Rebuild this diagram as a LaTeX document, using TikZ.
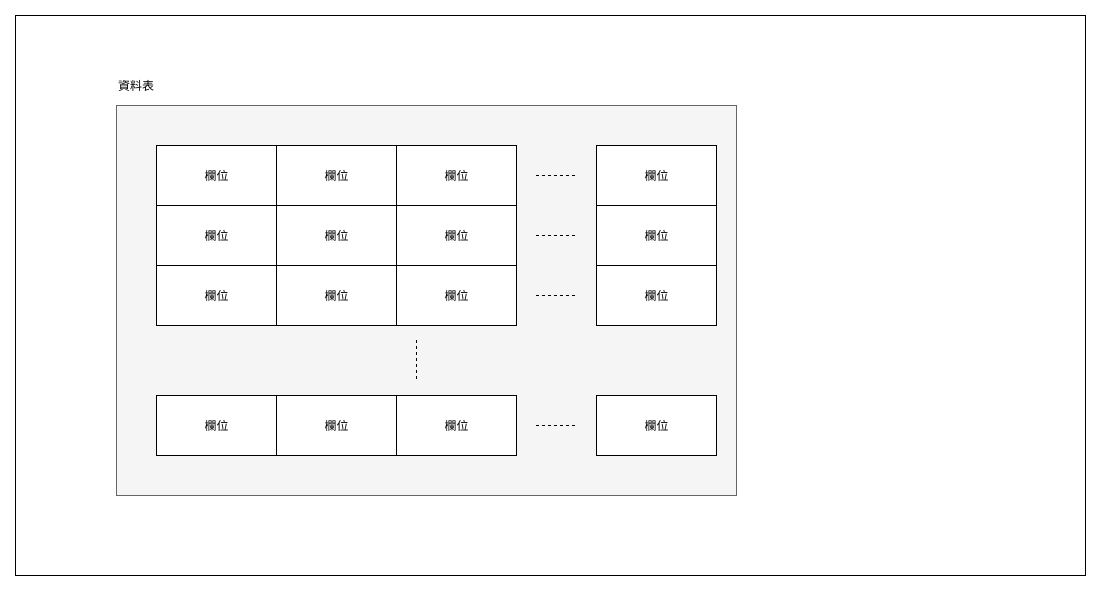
\documentclass[tikz,border=0pt]{standalone}
\usepackage{fontspec}
\newfontfamily\cjk{Noto Sans CJK TC}
\begin{document}
\begin{tikzpicture}[x=1pt,y=-1pt,
  cell/.style={draw=black,fill=white,line width=1pt,minimum width=120pt,minimum height=60pt,inner sep=0pt,anchor=north west,font=\cjk\fontsize{12}{14}\selectfont},
  dots/.style={draw=black,line width=1pt,dash pattern=on 3pt off 3pt}]
\useasboundingbox (0,0) rectangle (1101,592);
\node[draw=black,line width=1pt,minimum width=1070pt,minimum height=560pt,anchor=north west,inner sep=0pt] (frame) at (15,15) {};
\node[draw=black!60,fill=black!4,line width=1pt,minimum width=620pt,minimum height=390pt,anchor=north west,inner sep=0pt] (table) at (116,105) {};
\node[anchor=west,inner sep=0pt,font=\cjk\fontsize{12}{14}\selectfont] (title) at (118,86) {資料表};
\foreach \r/\y in {1/145,2/205,3/265,4/395}{
  \foreach \c/\x in {1/156,2/276,3/396,5/596}{
    \node[cell] (c\r\c) at (\x,\y) {欄位};
  }
  \coordinate (h\r a) at (536,\y+30);
  \coordinate (h\r b) at (576,\y+30);
  \draw[dots] (h\r a) -- (h\r b);
}
\coordinate (va) at (416,340);
\coordinate (vb) at (416,380);
\draw[dots] (va) -- (vb);
\end{tikzpicture}
\end{document}
